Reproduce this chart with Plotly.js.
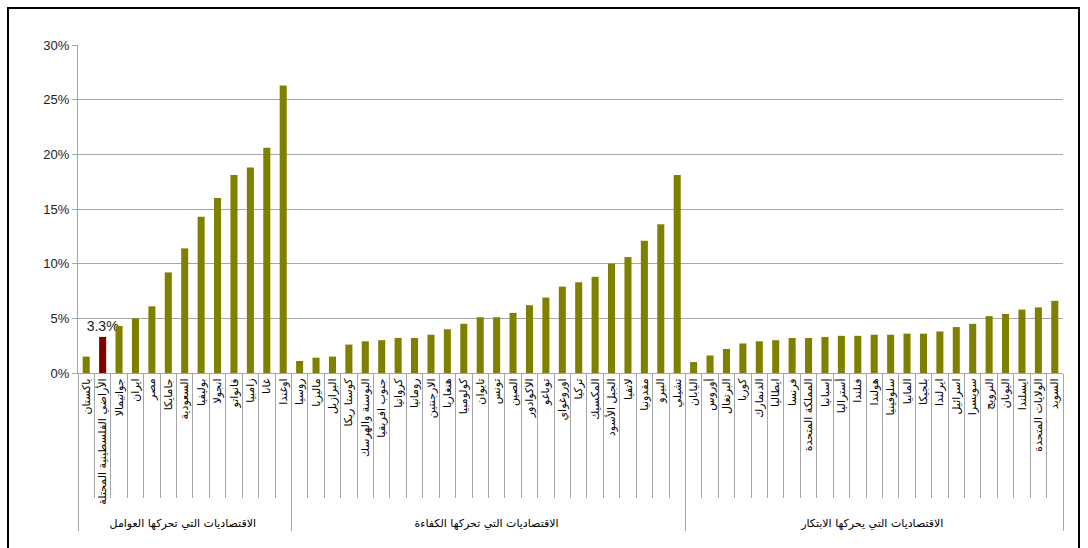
<!DOCTYPE html>
<html>
<head>
<meta charset="utf-8">
<script src="https://cdn.plot.ly/plotly-3.0.1.min.js"></script>
<style>
  html, body { margin: 0; padding: 0; background: #fff; }
  #wrap { position: relative; width: 1088px; height: 548px; overflow: hidden; }
  #chart { width: 1088px; height: 548px; }
  #frame { position: absolute; left: 7px; top: 7px; width: 1069px; height: 560px;
           border: 2px solid #000; pointer-events: none; }
</style>
</head>
<body>
<div id="wrap"><div id="chart"></div><div id="frame"></div></div>
<script>
// Group names (second level of the category axis)
const groupNames = [
  'الاقتصاديات التي تحركها العوامل',
  'الاقتصاديات التي تحركها الكفاءة',
  'الاقتصاديات التي يحركها الابتكار'
];

// Factor-driven economies
const factorCountries = ['باكستان', 'الأراضي الفلسطينية المحتلة', 'جواتيمالا', 'ايران', 'مصر', 'جامايكا',
  'السعودية', 'بوليفيا', 'انجولا', 'فانواتو', 'زامبيا', 'غانا', 'اوغندا'];
const factorRates = [1.5, 3.3, 4.3, 5.0, 6.1, 9.2, 11.4, 14.3, 16.0, 18.1, 18.8, 20.6, 26.3];

// Efficiency-driven economies
const efficiencyCountries = ['روسيا', 'ماليزيا', 'البرازيل', 'كوستا ريكا', 'البوسنة والهرسك', 'جنوب افريقيا',
  'كرواتيا', 'رومانيا', 'الارجنتين', 'هنغاريا', 'كولومبيا', 'تايوان', 'تونس', 'الصين', 'الاكوادور',
  'توباغو', 'اوروغواي', 'تركيا', 'المكسيك', 'الجبل الأسود', 'لاتفيا', 'مقدونيا', 'البيرو', 'تشيلي'];
const efficiencyRates = [1.1, 1.4, 1.5, 2.6, 2.9, 3.0, 3.2, 3.2, 3.5, 4.0, 4.5, 5.1, 5.1, 5.5, 6.2,
  6.9, 7.9, 8.3, 8.8, 10.0, 10.6, 12.1, 13.6, 18.1];

// Innovation-driven economies
const innovationCountries = ['اليابان', 'أوروس', 'البرتغال', 'كوريا', 'الدنمارك', 'ايطاليا', 'فرنسا',
  'المملكة المتحدة', 'إسبانيا', 'أستراليا', 'فنلندا', 'هولندا', 'سلوفينيا', 'المانيا', 'بلجيكا',
  'ايرلندا', 'اسرائيل', 'سويسرا', 'النرويج', 'اليونان', 'ايسلندا', 'الولايات المتحدة', 'السويد'];
const innovationRates = [1.0, 1.6, 2.2, 2.7, 2.9, 3.0, 3.2, 3.2, 3.3, 3.4, 3.4, 3.5, 3.5, 3.6, 3.6,
  3.8, 4.2, 4.5, 5.2, 5.4, 5.8, 6.0, 6.6];

// Highlighted economy
const highlightCountry = 'الأراضي الفلسطينية المحتلة';

const baseColor = '#808000';
const highlightColor = '#800000';

// Assemble the two-level category arrays
const countries = [...factorCountries, ...efficiencyCountries, ...innovationCountries];
const rates = [...factorRates, ...efficiencyRates, ...innovationRates];
const groups = [
  ...factorCountries.map(() => groupNames[0]),
  ...efficiencyCountries.map(() => groupNames[1]),
  ...innovationCountries.map(() => groupNames[2])
];
const colors = countries.map(c => c === highlightCountry ? highlightColor : baseColor);
const labels = countries.map((c, i) => c === highlightCountry ? rates[i].toFixed(1) + '%' : '');

const trace = {
  type: 'bar',
  x: [groups, countries],
  y: rates,
  marker: { color: colors, line: { width: 0 } },
  text: labels,
  textposition: 'outside',
  textangle: 0,
  constraintext: 'none',
  cliponaxis: false,
  textfont: { family: 'Liberation Sans, Arial, sans-serif', size: 14, color: '#222' },
  hoverinfo: 'none'
};

const gray = '#a6a6a6';

const layout = {
  width: 1088,
  height: 548,
  margin: { l: 78, r: 25, t: 45, b: 175 },
  paper_bgcolor: '#fff',
  plot_bgcolor: '#fff',
  showlegend: false,
  bargap: 0.57,
  xaxis: {
    type: 'multicategory',
    showline: true,
    linecolor: gray,
    linewidth: 1,
    showgrid: false,
    ticks: 'outside',
    tickson: 'boundaries',
    ticklen: 124,
    tickcolor: gray,
    tickwidth: 1,
    tickangle: -90,
    tickfont: { family: 'DejaVu Sans, sans-serif', size: 11, color: '#000' },
    showdividers: true,
    dividercolor: gray,
    dividerwidth: 1
  },
  yaxis: {
    range: [0, 30],
    dtick: 5,
    ticksuffix: '%',
    showgrid: true,
    gridcolor: gray,
    gridwidth: 1,
    zeroline: false,
    showline: true,
    linecolor: gray,
    ticks: 'outside',
    ticklen: 5,
    tickcolor: gray,
    tickfont: { family: 'Liberation Sans, Arial, sans-serif', size: 13, color: '#222' }
  }
};

Plotly.newPlot('chart', [trace], layout, { displayModeBar: false, staticPlot: true });
</script>
</body>
</html>
